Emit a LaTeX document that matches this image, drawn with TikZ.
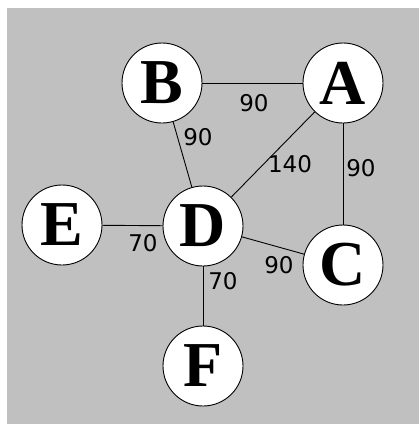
\documentclass[tikz,border=0pt]{standalone}
\usepackage{fontspec}
\setmainfont{Liberation Serif}
\newfontfamily\lblfont{DejaVu Sans}
\definecolor{bggray}{HTML}{C0C0C0}
\begin{document}
\begin{tikzpicture}[x=1pt,y=-1pt,
  vert/.style={circle,draw=black,line width=0.9pt,fill=white,minimum size=80pt,inner sep=0pt,
    font=\fontsize{64}{64}\selectfont\bfseries},
  edge/.style={draw=black,line width=0.9pt},
  wlabel/.style={font=\lblfont\fontsize{23}{23}\selectfont,inner sep=0pt}]
\useasboundingbox (0,0) rectangle (419,424);
\fill[bggray] (7,8) rectangle (419,424);
\node[vert] (B) at (162,83) {B};
\node[vert] (A) at (343,83) {A};
\node[vert] (D) at (203,226) {D};
\node[vert] (E) at (62,225) {E};
\node[vert] (C) at (343,265) {C};
\node[vert] (F) at (203,366) {F};
\path[edge] (B) -- (A);
\path[edge] (B) -- (D);
\path[edge] (A) -- (D);
\path[edge] (A) -- (C);
\path[edge] (E) -- (D);
\path[edge] (D) -- (C);
\path[edge] (D) -- (F);
\node[wlabel] (lBA) at (254,103) {90};
\node[wlabel] (lBD) at (198,137) {90};
\node[wlabel] (lAD) at (290,164) {140};
\node[wlabel] (lAC) at (361,168) {90};
\node[wlabel] (lED) at (143,243) {70};
\node[wlabel] (lDC) at (279,265) {90};
\node[wlabel] (lDF) at (223,281) {70};
\end{tikzpicture}
\end{document}
